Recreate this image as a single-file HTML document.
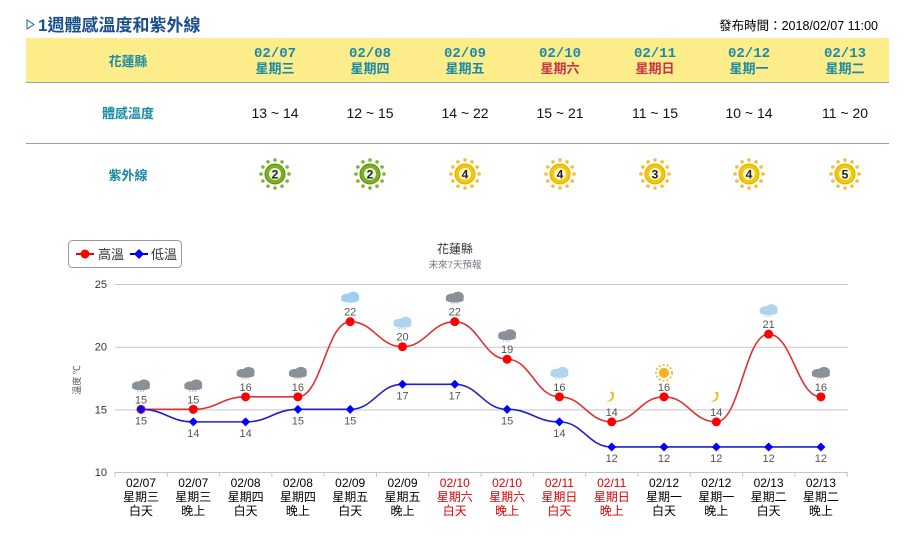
<!DOCTYPE html>
<html><head><meta charset="utf-8"><style>
body{margin:0;background:#fff;width:919px;height:534px;overflow:hidden;font-family:"Liberation Sans","Noto Sans CJK TC",sans-serif;}
svg text{font-family:"Liberation Sans","Noto Sans CJK TC",sans-serif;}
svg text.mono{font-family:"Liberation Mono","DejaVu Sans Mono",monospace;}
</style></head><body>
<svg id="s" width="919" height="534" xmlns="http://www.w3.org/2000/svg">
<polygon points="27,20 27,29 34,24.5" fill="none" stroke="#1b5fa8" stroke-width="1"/>
<text x="38" y="31" font-size="17" font-weight="bold" fill="#1b4f8c">1週體感溫度和紫外線</text>
<text x="878" y="30" font-size="12.5" fill="#000" text-anchor="end">發布時間：2018/02/07 11:00</text>
<rect x="26" y="38" width="863" height="44" fill="#fdec8a"/>
<line x1="26" y1="82.5" x2="889" y2="82.5" stroke="#8fa3b8"/>
<line x1="26" y1="143.5" x2="889" y2="143.5" stroke="#8fa3b8"/>
<text x="128" y="66" font-size="13" font-weight="bold" fill="#1a8aa6" text-anchor="middle">花蓮縣</text>
<text x="128" y="118" font-size="13" font-weight="bold" fill="#1a8aa6" text-anchor="middle">體感溫度</text>
<text x="128" y="180" font-size="13" font-weight="bold" fill="#1a8aa6" text-anchor="middle">紫外線</text>
<g id="tbl"></g>
<g id="chart"></g>
</svg>
<script>
var NS="http://www.w3.org/2000/svg";
function el(p,t,a,txt){var e=document.createElementNS(NS,t);for(var k in a)e.setAttribute(k,a[k]);if(txt!=null)e.textContent=txt;p.appendChild(e);return e;}
var tbl=document.getElementById('tbl');
var cols=[275,370,465,560,655,749,845];
var dates=['02/07','02/08','02/09','02/10','02/11','02/12','02/13'];
var wk=['星期三','星期四','星期五','星期六','星期日','星期一','星期二'];
var red=[0,0,0,1,1,0,0];
var feel=['13 ~ 14','12 ~ 15','14 ~ 22','15 ~ 21','11 ~ 15','10 ~ 14','11 ~ 20'];
var uv=[2,2,4,4,3,4,5];
cols.forEach(function(x,i){
 el(tbl,'text',{x:x,y:57,'font-size':14,'font-weight':'bold',fill:'#1a8aa6','text-anchor':'middle','class':'mono'},dates[i]);
 el(tbl,'text',{x:x,y:73,'font-size':13,'font-weight':'bold',fill:red[i]?'#c8334a':'#1a8aa6','text-anchor':'middle'},wk[i]);
 el(tbl,'text',{x:x,y:118,'font-size':14,fill:'#111','text-anchor':'middle'},feel[i]);
 var g=uv[i]<3;var cy=174;
 for(var a=0;a<12;a++){var an=a*Math.PI/6;el(tbl,'circle',{cx:x+Math.cos(an)*14,cy:cy+Math.sin(an)*14,r:1.8,fill:g?'#7fb13a':'#f0c030'});}
 el(tbl,'circle',{cx:x,cy:cy,r:10,fill:g?'#7ab01e':'#f5c800',stroke:g?'#5a8a10':'#e0a800'});
 el(tbl,'circle',{cx:x,cy:cy,r:6,fill:'#fff',opacity:0.85});
 el(tbl,'text',{x:x,y:cy+4.5,'font-size':12,'font-weight':'bold',fill:'#222','text-anchor':'middle'},uv[i]);
});
var c=document.getElementById('chart');
el(c,'rect',{x:68.5,y:240.5,width:113,height:27,rx:4,fill:'#fff',stroke:'#999'});
el(c,'line',{x1:76,y1:254,x2:94,y2:254,stroke:'#e00',"stroke-width":2});
el(c,'circle',{cx:85,cy:254,r:4.5,fill:'#f00'});
el(c,'text',{x:98,y:259,'font-size':13,fill:'#333'},'高溫');
el(c,'line',{x1:130,y1:254,x2:148,y2:254,stroke:'#00c',"stroke-width":2});
el(c,'polygon',{points:'139,249 144,254 139,259 134,254',fill:'#00f'});
el(c,'text',{x:151,y:259,'font-size':13,fill:'#333'},'低溫');
el(c,'text',{x:455,y:253,'font-size':12,fill:'#333','text-anchor':'middle'},'花蓮縣');
el(c,'text',{x:455,y:268,'font-size':9.5,fill:'#778','text-anchor':'middle'},'未來7天預報');
function Y(v){return 472-(v-10)*12.53;}
[25,20,15,10].forEach(function(v){
 el(c,'line',{x1:115,y1:Y(v)+0.5,x2:848,y2:Y(v)+0.5,stroke:v==10?'#b8c8dc':'#c8c8c8'});
 el(c,'text',{x:107,y:Y(v)+4,'font-size':11,fill:'#333','text-anchor':'end'},v);
});
el(c,'text',{x:0,y:0,'font-size':9,fill:'#555',transform:'translate(80,380) rotate(-90)','text-anchor':'middle'},'溫度 ℃');
var X=[];for(var i=0;i<14;i++)X.push(141+i*52.3);
for(var i=0;i<=14;i++){var xx=115+i*52.3;el(c,'line',{x1:xx,y1:472,x2:xx,y2:477,stroke:'#b8c8dc'});}
var hi=[15,15,16,16,22,20,22,19,16,14,16,14,21,16];
var lo=[15,14,14,15,15,17,17,15,14,12,12,12,12,12];
function path(d){var s='M'+X[0]+','+Y(d[0]);for(var i=1;i<d.length;i++){var dx=(X[i]-X[i-1])/2.2;s+=' C'+(X[i-1]+dx)+','+Y(d[i-1])+' '+(X[i]-dx)+','+Y(d[i])+' '+X[i]+','+Y(d[i]);}return s;}
el(c,'path',{d:path(hi),fill:'none',stroke:'#e03030','stroke-width':1.6});
el(c,'path',{d:path(lo),fill:'none',stroke:'#2020d0','stroke-width':1.6});
for(var i=0;i<14;i++){
 el(c,'circle',{cx:X[i],cy:Y(hi[i]),r:4.5,fill:'#f00'});
 var ly=Y(lo[i]);el(c,'polygon',{points:X[i]+','+(ly-4.5)+' '+(X[i]+4.5)+','+ly+' '+X[i]+','+(ly+4.5)+' '+(X[i]-4.5)+','+ly,fill:'#00f'});
 el(c,'text',{x:X[i],y:Y(hi[i])-6,'font-size':11,fill:'#555','text-anchor':'middle'},hi[i]);
 el(c,'text',{x:X[i],y:ly+15,'font-size':11,fill:'#555','text-anchor':'middle'},lo[i]);
 var iy=Y(hi[i])-24, ix=X[i];
 var col=[9,11].indexOf(i)>=0?null:(i==10?'sun':'cloud');
 if(col=='cloud'){var f=(i==4)?'#9cd0f0':(i==5||i==8||i==12?'#b0d4ee':'#8a9098');
  el(c,'ellipse',{cx:ix-3,cy:iy,rx:6,ry:4,fill:f});el(c,'ellipse',{cx:ix+3,cy:iy-1,rx:6,ry:5,fill:f});el(c,'ellipse',{cx:ix,cy:iy+2,rx:9,ry:3,fill:f});
  if(i!=4)el(c,'line',{x1:ix-4,y1:iy+6,x2:ix+5,y2:iy+6,stroke:'#8ab','stroke-dasharray':'1,2'});}
 else if(col=='sun'){el(c,'circle',{cx:ix,cy:iy,r:5,fill:'#f5b020'});el(c,'circle',{cx:ix,cy:iy,r:8,fill:'none',stroke:'#f5c040','stroke-dasharray':'2,2','stroke-width':2});}
 else{el(c,'path',{d:'M'+(ix-2)+','+(iy-6)+' q6,6 -4,10 q10,0 8,-10',fill:'#e8c020'});}
 var rd=(i>=6&&i<=9);var fc=rd?'#d00':'#000';
 el(c,'text',{x:ix,y:487,'font-size':12,fill:fc,'text-anchor':'middle'},['02/07','02/07','02/08','02/08','02/09','02/09','02/10','02/10','02/11','02/11','02/12','02/12','02/13','02/13'][i]);
 el(c,'text',{x:ix,y:501,'font-size':12,fill:fc,'text-anchor':'middle'},['星期三','星期三','星期四','星期四','星期五','星期五','星期六','星期六','星期日','星期日','星期一','星期一','星期二','星期二'][i]);
 el(c,'text',{x:ix,y:515,'font-size':12,fill:fc,'text-anchor':'middle'},i%2?'晚上':'白天');
}
</script>
</body></html>
